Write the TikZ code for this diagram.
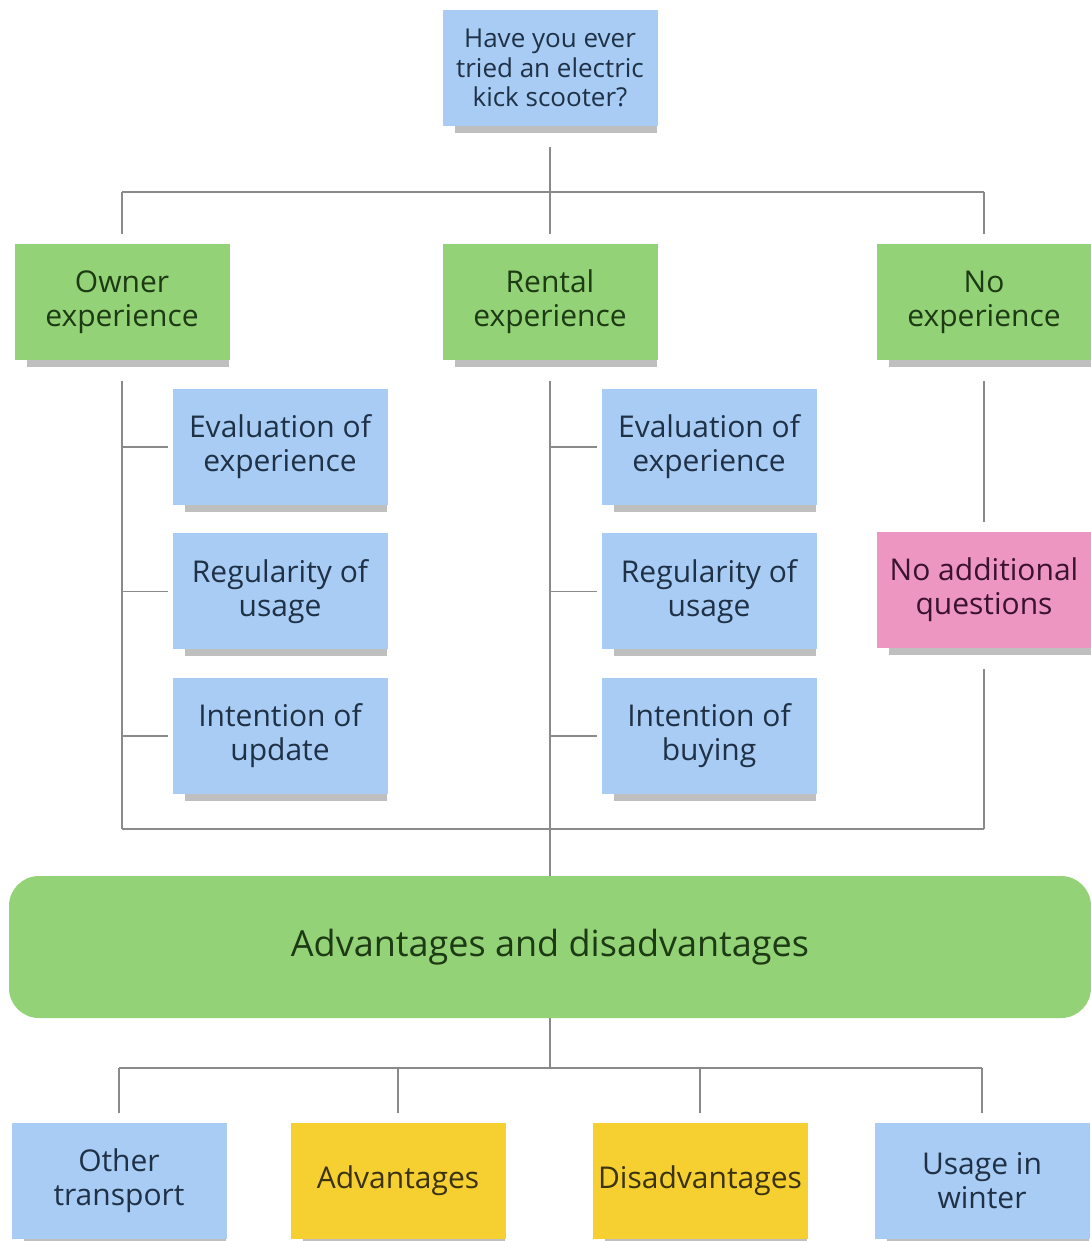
\documentclass[tikz,border=0pt]{standalone}
\usepackage{fontspec}
\setmainfont{Open Sans}
\usetikzlibrary{positioning,shadows}

\definecolor{noteblue}{HTML}{A8CCF3}
\definecolor{notegreen}{HTML}{93D276}
\definecolor{notepink}{HTML}{EC96C1}
\definecolor{noteyellow}{HTML}{F5D030}
\definecolor{txtblue}{HTML}{1F3147}
\definecolor{txtgreen}{HTML}{1C3A13}
\definecolor{txtpink}{HTML}{3B1230}
\definecolor{txtyellow}{HTML}{3A3210}
\definecolor{linegray}{HTML}{8A8A8A}

\begin{document}
\begin{tikzpicture}[
    x=1pt,y=-1pt,
    note/.style={rectangle,minimum width=215pt,minimum height=116pt,
                 align=center,font=\fontsize{30}{34}\selectfont,
                 general shadow={shadow xshift=6pt,shadow yshift=-11pt,
                   shadow scale=0.94,fill=black,opacity=0.25}},
    bluenote/.style={note,fill=noteblue,text=txtblue},
    greennote/.style={note,fill=notegreen,text=txtgreen},
    pinknote/.style={note,fill=notepink,text=txtpink},
    yellownote/.style={note,fill=noteyellow,text=txtyellow},
    link/.style={draw=linegray,line width=1.6pt},
  ]
    \fill[white] (0,0) rectangle (1091,1241);
    \useasboundingbox (0,0) rectangle (1091,1241);

    % question and the three groups
    \node[bluenote,font=\fontsize{26}{29.5}\selectfont] (quest) at (550,68)
      {Have you ever\\tried an electric\\kick scooter?};
    \node[greennote] (owner)  at (122,302) {Owner\\experience};
    \node[greennote] (rental) at (550,302) {Rental\\experience};
    \node[greennote] (noexp)  at (984,302) {No\\experience};

    % follow-up questions
    \node[bluenote] (ownEval) at (280,447) {Evaluation of\\experience};
    \node[bluenote,below=28pt of ownEval] (ownReg) {Regularity of\\usage};
    \node[bluenote,below=28pt of ownReg]  (ownUpd) {Intention of\\update};
    \node[bluenote] (rentEval) at (709,447) {Evaluation of\\experience};
    \node[bluenote,below=28pt of rentEval] (rentReg) {Regularity of\\usage};
    \node[bluenote,below=28pt of rentReg]  (rentBuy) {Intention of\\buying};
    \node[pinknote] (noadd) at (984,590) {No additional\\questions};

    % common block
    \node[fill=notegreen,text=txtgreen,rounded corners=30pt,
          minimum width=1082pt,minimum height=142pt,
          font=\fontsize{36}{42}\selectfont] (advdis) at (550,947)
      {Advantages and disadvantages};
    \node[bluenote]   (other)  at (119,1181) {Other\\transport};
    \node[yellownote] (adv)    at (398,1181) {Advantages};
    \node[yellownote] (disadv) at (700,1181) {Disadvantages};
    \node[bluenote]   (winter) at (982,1181) {Usage in\\winter};

    \coordinate (busA) at (550,192);
    \coordinate (busB) at (550,829);
    \coordinate (busC) at (550,1068);

    % top split
    \draw[link,shorten <=21pt,shorten >=10pt] (quest) -- (rental);
    \draw[link] (busA -| owner) -- (busA -| noexp);
    \draw[link,shorten >=10pt] (busA -| owner) -- (owner);
    \draw[link,shorten >=10pt] (busA -| noexp) -- (noexp);

    % owner branch
    \draw[link,shorten <=21pt] (owner) -- (owner |- busB);
    \draw[link,shorten >=4pt] (owner |- ownEval) -- (ownEval);
    \draw[link,shorten >=4pt] (owner |- ownReg) -- (ownReg);
    \draw[link,shorten >=4pt] (owner |- ownUpd) -- (ownUpd);

    % rental branch
    \draw[link,shorten <=21pt] (rental) -- (advdis);
    \draw[link,shorten >=4pt] (rental |- rentEval) -- (rentEval);
    \draw[link,shorten >=4pt] (rental |- rentReg) -- (rentReg);
    \draw[link,shorten >=4pt] (rental |- rentBuy) -- (rentBuy);

    % no experience branch
    \draw[link,shorten <=21pt,shorten >=10pt] (noexp) -- (noadd);
    \draw[link,shorten <=21pt] (noadd) -- (noadd |- busB);
    \draw[link] (owner |- busB) -- (noexp |- busB);

    % bottom split
    \draw[link] (advdis) -- (busC);
    \draw[link] (busC -| other) -- (busC -| winter);
    \draw[link,shorten >=10pt] (busC -| other)  -- (other);
    \draw[link,shorten >=10pt] (busC -| adv)    -- (adv);
    \draw[link,shorten >=10pt] (busC -| disadv) -- (disadv);
    \draw[link,shorten >=10pt] (busC -| winter) -- (winter);
\end{tikzpicture}
\end{document}
